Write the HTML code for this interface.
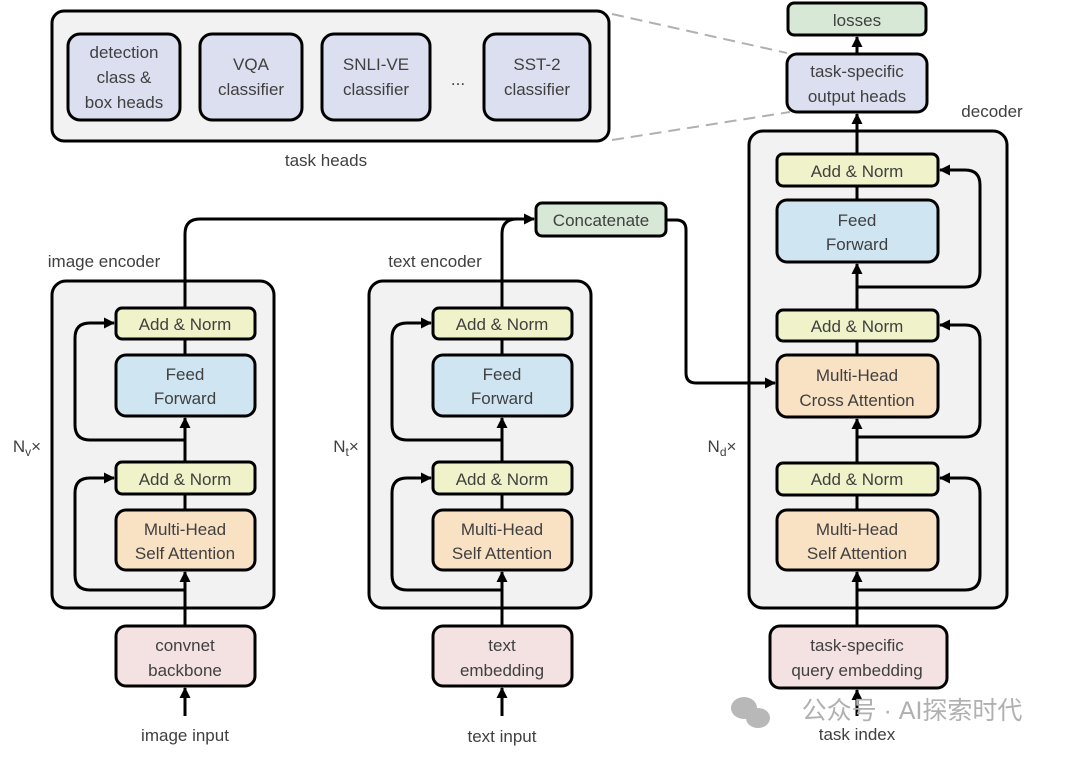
<!DOCTYPE html>
<html><head><meta charset="utf-8"><style>
html,body{margin:0;padding:0;background:#fff}
svg text{font-family:"Liberation Sans","Noto Sans CJK SC",sans-serif;fill:#404040;font-size:17px;text-anchor:middle}
</style></head><body>
<svg width="1080" height="754" viewBox="0 0 1080 754" xmlns="http://www.w3.org/2000/svg">
<defs><marker id="a" markerWidth="11" markerHeight="11" refX="10" refY="5.5" orient="auto" markerUnits="userSpaceOnUse"><path d="M0,0 L11,5.5 L0,11 z" fill="#000"/></marker></defs>
<g stroke="#000" stroke-width="3">
<rect x="52" y="11" width="557" height="130" rx="12" fill="#f2f2f2"/>
<rect x="68" y="34" width="112" height="86" rx="12" fill="#dcdff0"/>
<rect x="200" y="34" width="102" height="86" rx="12" fill="#dcdff0"/>
<rect x="322" y="34" width="108" height="86" rx="12" fill="#dcdff0"/>
<rect x="484" y="34" width="106" height="86" rx="12" fill="#dcdff0"/>
</g>
<g stroke="#b0b0b0" stroke-width="2" stroke-dasharray="12,7" fill="none">
<line x1="612" y1="14" x2="787" y2="53"/><line x1="612" y1="140" x2="790" y2="112"/>
</g>
<text x="124" y="58">detection</text><text x="124" y="83">class &amp;</text><text x="124" y="108">box heads</text>
<text x="251" y="70">VQA</text><text x="251" y="95">classifier</text>
<text x="376" y="70">SNLI-VE</text><text x="376" y="95">classifier</text>
<text x="458" y="85">...</text>
<text x="537" y="70">SST-2</text><text x="537" y="95">classifier</text>
<text x="326" y="166">task heads</text>

<g stroke="#000" stroke-width="3" fill="#f2f2f2">
<rect x="52" y="281" width="222" height="327" rx="14"/>
<rect x="369" y="281" width="222" height="327" rx="14"/>
<rect x="749" y="131" width="258" height="477" rx="14"/>
</g>
<text x="104" y="267">image encoder</text>
<text x="435" y="267">text encoder</text>
<text x="992" y="117">decoder</text>
<text x="27" y="452">N<tspan font-size="12" dy="4">v</tspan><tspan dy="-4">×</tspan></text>
<text x="346" y="452">N<tspan font-size="12" dy="4">t</tspan><tspan dy="-4">×</tspan></text>
<text x="722" y="452">N<tspan font-size="12" dy="4">d</tspan><tspan dy="-4">×</tspan></text>

<g stroke="#000" stroke-width="3" fill="none">
<path d="M185,716 L185,688" marker-end="url(#a)"/>
<path d="M185,626 L185,572" marker-end="url(#a)"/>
<path d="M185,590 L90,590 Q75,590 75,575 L75,493 Q75,478 90,478 L114,478" marker-end="url(#a)"/>
<path d="M185,510 L185,494"/>
<path d="M185,462 L185,418" marker-end="url(#a)"/>
<path d="M185,440 L90,440 Q75,440 75,425 L75,338 Q75,323 90,323 L114,323" marker-end="url(#a)"/>
<path d="M185,355 L185,339"/>
<path d="M185,308 L185,234 Q185,219 200,219 L534,219" marker-end="url(#a)"/>

<path d="M502,716 L502,688" marker-end="url(#a)"/>
<path d="M502,626 L502,572" marker-end="url(#a)"/>
<path d="M502,590 L407,590 Q392,590 392,575 L392,493 Q392,478 407,478 L431,478" marker-end="url(#a)"/>
<path d="M502,510 L502,494"/>
<path d="M502,462 L502,418" marker-end="url(#a)"/>
<path d="M502,440 L407,440 Q392,440 392,425 L392,338 Q392,323 407,323 L431,323" marker-end="url(#a)"/>
<path d="M502,355 L502,339"/>
<path d="M502,308 L502,234 Q502,219 517,219"/>

<path d="M666,220 L676,220 Q686,220 686,230 L686,373 Q686,383 696,383 L775,383" marker-end="url(#a)"/>

<path d="M857,716 L857,690" marker-end="url(#a)"/>
<path d="M857,626 L857,572" marker-end="url(#a)"/>
<path d="M857,590 L965,590 Q980,590 980,575 L980,493 Q980,478 965,478 L940,478" marker-end="url(#a)"/>
<path d="M857,510 L857,495"/>
<path d="M857,463 L857,419" marker-end="url(#a)"/>
<path d="M857,437 L965,437 Q980,437 980,422 L980,340 Q980,325 965,325 L940,325" marker-end="url(#a)"/>
<path d="M857,355 L857,341"/>
<path d="M857,310 L857,264" marker-end="url(#a)"/>
<path d="M857,287 L965,287 Q980,287 980,272 L980,185 Q980,170 965,170 L940,170" marker-end="url(#a)"/>
<path d="M857,200 L857,186"/>
<path d="M857,154 L857,114" marker-end="url(#a)"/>
<path d="M857,54 L857,37" marker-end="url(#a)"/>
</g>

<g stroke="#000" stroke-width="3">
<rect x="116" y="308" width="139" height="31" rx="6" fill="#f0f3c9"/>
<rect x="116" y="355" width="139" height="61" rx="10" fill="#cfe5f2"/>
<rect x="116" y="462" width="139" height="32" rx="6" fill="#f0f3c9"/>
<rect x="116" y="510" width="139" height="60" rx="10" fill="#f9e1c4"/>
<rect x="116" y="626" width="139" height="60" rx="10" fill="#f4e1e1"/>

<rect x="433" y="308" width="139" height="31" rx="6" fill="#f0f3c9"/>
<rect x="433" y="355" width="139" height="61" rx="10" fill="#cfe5f2"/>
<rect x="433" y="462" width="139" height="32" rx="6" fill="#f0f3c9"/>
<rect x="433" y="510" width="139" height="60" rx="10" fill="#f9e1c4"/>
<rect x="433" y="626" width="139" height="60" rx="10" fill="#f4e1e1"/>

<rect x="536" y="203" width="130" height="33" rx="6" fill="#d7e8d6"/>

<rect x="777" y="154" width="161" height="32" rx="6" fill="#f0f3c9"/>
<rect x="777" y="200" width="161" height="62" rx="10" fill="#cfe5f2"/>
<rect x="777" y="310" width="161" height="31" rx="6" fill="#f0f3c9"/>
<rect x="777" y="355" width="161" height="62" rx="10" fill="#f9e1c4"/>
<rect x="777" y="463" width="161" height="32" rx="6" fill="#f0f3c9"/>
<rect x="777" y="510" width="161" height="60" rx="10" fill="#f9e1c4"/>
<rect x="770" y="626" width="177" height="62" rx="10" fill="#f4e1e1"/>

<rect x="787" y="54" width="140" height="58" rx="10" fill="#dcdff0"/>
<rect x="788" y="3" width="138" height="32" rx="6" fill="#d7e8d6"/>
</g>

<text x="185" y="330">Add &amp; Norm</text>
<text x="185" y="380">Feed</text><text x="185" y="404">Forward</text>
<text x="185" y="485">Add &amp; Norm</text>
<text x="185" y="535">Multi-Head</text><text x="185" y="559">Self Attention</text>
<text x="185" y="651">convnet</text><text x="185" y="676">backbone</text>
<text x="185" y="741">image input</text>

<text x="502" y="330">Add &amp; Norm</text>
<text x="502" y="380">Feed</text><text x="502" y="404">Forward</text>
<text x="502" y="485">Add &amp; Norm</text>
<text x="502" y="535">Multi-Head</text><text x="502" y="559">Self Attention</text>
<text x="502" y="651">text</text><text x="502" y="676">embedding</text>
<text x="502" y="742">text input</text>

<text x="601" y="226">Concatenate</text>

<text x="857" y="177">Add &amp; Norm</text>
<text x="857" y="226">Feed</text><text x="857" y="250">Forward</text>
<text x="857" y="332">Add &amp; Norm</text>
<text x="857" y="381">Multi-Head</text><text x="857" y="406">Cross Attention</text>
<text x="857" y="485">Add &amp; Norm</text>
<text x="857" y="535">Multi-Head</text><text x="857" y="559">Self Attention</text>
<text x="857" y="651">task-specific</text><text x="857" y="676">query embedding</text>
<text x="857" y="740">task index</text>

<text x="857" y="77">task-specific</text><text x="857" y="102">output heads</text>
<text x="857" y="26">losses</text>

<text x="912" y="719" style="fill:#b0b0b0;font-size:25px">公众号 · AI探索时代</text>
<g fill="#b8b8b8"><ellipse cx="744" cy="708" rx="13" ry="11"/><ellipse cx="758" cy="718" rx="12" ry="10"/></g>
</svg>
</body></html>
